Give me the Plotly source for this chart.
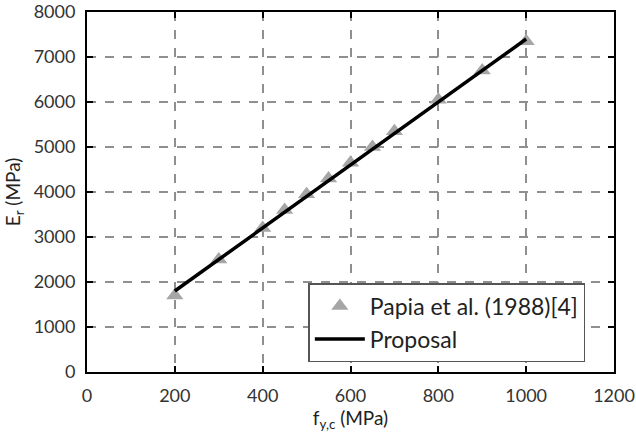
import plotly.graph_objects as go

# Experimental data: Papia et al. (1988) [4]
fyc_exp = [200, 300, 400, 450, 500, 550, 600, 650, 700, 800, 900, 1000]
er_exp = [1700, 2500, 3200, 3600, 3950, 4300, 4650, 5000, 5350, 6050, 6700, 7350]

# Proposed model (straight line between its end points)
fyc_prop = [200, 1000]
er_prop = [1800, 7400]

x_ticks = [0, 200, 400, 600, 800, 1000, 1200]
y_ticks = [0, 1000, 2000, 3000, 4000, 5000, 6000, 7000, 8000]

FONT = "Lato"

fig = go.Figure()
fig.add_trace(go.Scatter(
    x=fyc_exp, y=er_exp, mode="markers", name="Papia et al. (1988)[4]",
    marker=dict(symbol="triangle-up", size=15, color="#a6a6a6"),
))
fig.add_trace(go.Scatter(
    x=fyc_prop, y=er_prop, mode="lines", name="Proposal",
    line=dict(color="black", width=3.5),
))

axis_common = dict(
    showline=True, linecolor="black", linewidth=2, mirror="ticks",
    ticks="inside", ticklen=6, tickwidth=1.5, tickcolor="black",
    showgrid=True, gridcolor="#8f8f8f", griddash="dash", gridwidth=1.8,
    zeroline=False, automargin=False,
    tickfont=dict(family=FONT, size=18, color="#333333"),
)

fig.update_xaxes(
    range=[0, 1200], tickvals=x_ticks, ticktext=[str(v) for v in x_ticks],
    ticklabelstandoff=6,
    title=dict(text="f<sub>y,c</sub> (MPa)", font=dict(family=FONT, size=19, color="#222222"), standoff=6),
    **axis_common,
)
fig.update_yaxes(
    range=[0, 8000], tickvals=y_ticks, ticktext=[str(v) for v in y_ticks],
    ticklabelstandoff=6,
    title=dict(text="E<sub>r</sub> (MPa)", font=dict(family=FONT, size=19, color="#222222"), standoff=8),
    **axis_common,
)

fig.update_layout(
    width=636, height=440,
    margin=dict(l=87, r=22, t=12, b=68),
    paper_bgcolor="white", plot_bgcolor="white",
    legend=dict(
        x=0.42, y=0.247, xanchor="left", yanchor="top",
        bgcolor="white", bordercolor="#555555", borderwidth=1.5,
        font=dict(family=FONT, size=23, color="#222222"),
        itemwidth=50, tracegroupgap=0,
    ),
)

fig.write_html("out.html")
